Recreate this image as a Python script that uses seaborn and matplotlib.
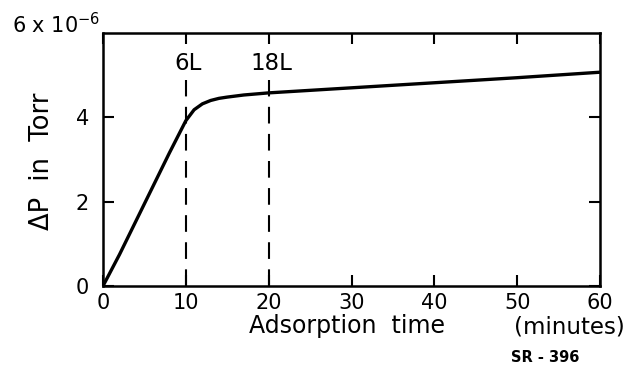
import matplotlib
matplotlib.use("Agg")
import matplotlib.pyplot as plt
import seaborn as sns
import pandas as pd

# Data (x in minutes, y in units of 1e-6 Torr)
time_min = [0, 2, 4, 6, 8, 10, 11, 12, 13, 14, 15, 17, 20, 25, 30, 40, 50, 60]
delta_p = [0.0, 0.75, 1.55, 2.35, 3.15, 3.92, 4.18, 4.32, 4.40, 4.45, 4.48, 4.53, 4.58, 4.64, 4.70, 4.82, 4.94, 5.07]
marker_x = [10, 20]
marker_labels = ["6L", "18L"]
x_ticks = [0, 10, 20, 30, 40, 50, 60]
y_ticks = [0, 2, 4]

sns.set_theme(style="white")
plt.rcParams['font.family'] = ['DejaVu Sans']
plt.rcParams['text.color'] = 'black'
plt.rcParams['xtick.color'] = 'black'
plt.rcParams['ytick.color'] = 'black'

df = pd.DataFrame({"t": time_min, "p": delta_p})

fig = plt.figure(figsize=(6.3, 3.68), dpi=100)
ax = fig.add_axes([103/630, 1 - 286/368, (600-103)/630, (286-33)/368])

sns.lineplot(data=df, x="t", y="p", ax=ax, color="black", linewidth=2.4)

for xm, lab in zip(marker_x, marker_labels):
    ax.plot([xm, xm], [0, 4.88], color="black", linewidth=1.5, dashes=(8, 5))
    ax.text(xm + 0.3, 5.28, lab, ha="center", va="center", fontsize=16.5)

ax.set_xlim(0, 60)
ax.set_ylim(0, 6)
ax.set_xticks(x_ticks)
ax.set_yticks(y_ticks)
ax.set_xticklabels([str(v) for v in x_ticks], fontsize=15)
ax.set_yticklabels([str(v) for v in y_ticks], fontsize=15)
ax.tick_params(axis="both", direction="in", length=8, width=1.5, colors="black",
               labelcolor="black", top=True, right=True, bottom=True, left=True)
ax.tick_params(axis="x", pad=5)
ax.tick_params(axis="y", pad=10)
for s in ax.spines.values():
    s.set_visible(True)
    s.set_color("black")
    s.set_linewidth(1.8)
ax.set_xlabel("")
ax.set_ylabel("")

fig.text(100/630, 1 - 25/368, r"6 x 10$^{-6}$", ha="right", va="center", fontsize=15, color="black")
fig.text(42/630, 1 - 161/368, "ΔP  in  Torr", rotation=90, ha="center", va="center", fontsize=18.5, color="black")
fig.text(347/630, 1 - 333/368, "Adsorption  time", ha="center", va="baseline", fontsize=17, color="black")
fig.text(625/630, 1 - 333/368, "(minutes)", ha="right", va="baseline", fontsize=16.5, color="black")
fig.text(545/630, 1 - 358/368, "SR - 396", ha="center", va="center", fontsize=10.5, fontweight="bold", color="black")

fig.savefig("out.png", dpi=100, facecolor="white")
